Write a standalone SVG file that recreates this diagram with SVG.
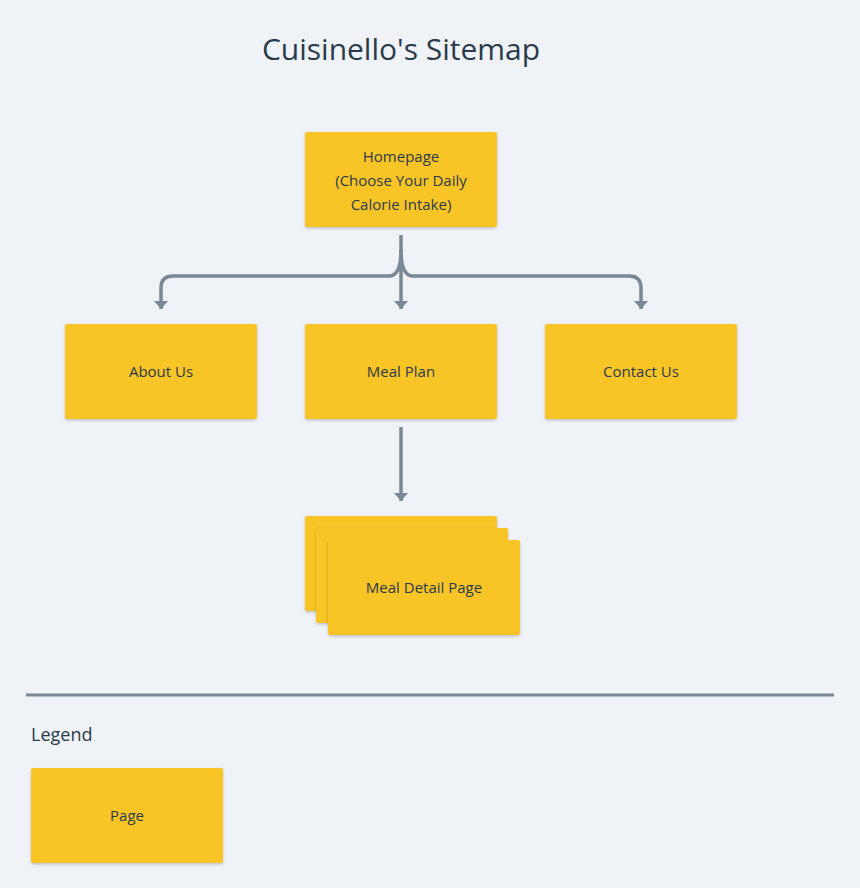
<svg xmlns="http://www.w3.org/2000/svg" width="860" height="888" viewBox="0 0 860 888">
<defs>
<filter id="sh" x="-10%" y="-10%" width="120%" height="130%"><feDropShadow dx="0" dy="1.5" stdDeviation="1.5" flood-color="#000" flood-opacity="0.2"/></filter>
<marker id="ar" viewBox="0 0 10 10" refX="5" refY="9" markerWidth="4" markerHeight="4" orient="auto-start-reverse" markerUnits="userSpaceOnUse"><path d="M0 0 L10 0 L5 8 Z" fill="#7a8896"/></marker>
<marker id="a" markerWidth="14" markerHeight="10" refX="7" refY="8" orient="0" markerUnits="userSpaceOnUse"><path d="M0 0 L14 0 L7 8 Z" fill="#7a8896"/></marker>
</defs>
<style>
.n{fill:#f9c425;filter:url(#sh)}
.t{font-family:"Open Sans","Liberation Sans",sans-serif;font-size:15px;fill:#2b3a4a;text-anchor:middle}
.c{fill:none;stroke:#7a8896;stroke-width:3.5}
</style>
<rect width="860" height="888" fill="#eff3f7"/>
<text x="401" y="60" font-family="'Open Sans','Liberation Sans',sans-serif" font-size="30" fill="#2b3a4a" text-anchor="middle">Cuisinello's Sitemap</text>
<g id="connectors">
<path class="c" d="M401 235 V309" marker-end="url(#a)"/>
<path class="c" d="M401 250 Q401 276 389 276 H173 Q161 276 161 288 V309" marker-end="url(#a)"/>
<path class="c" d="M401 250 Q401 276 413 276 H629 Q641 276 641 288 V309" marker-end="url(#a)"/>
<path class="c" d="M401 427 V501" marker-end="url(#a)"/>
</g>
<g id="homepage"><rect class="n" x="305" y="132" width="192" height="95" rx="2"/>
<text class="t" x="401" y="162">Homepage</text><text class="t" x="401" y="186">(Choose Your Daily</text><text class="t" x="401" y="210">Calorie Intake)</text></g>
<g id="about"><rect class="n" x="65" y="324" width="192" height="95" rx="2"/><text class="t" x="161" y="377">About Us</text></g>
<g id="mealplan"><rect class="n" x="305" y="324" width="192" height="95" rx="2"/><text class="t" x="401" y="377">Meal Plan</text></g>
<g id="contact"><rect class="n" x="545" y="324" width="192" height="95" rx="2"/><text class="t" x="641" y="377">Contact Us</text></g>
<g id="mealdetail">
<rect class="n" x="305" y="516" width="192" height="95" rx="2"/>
<rect class="n" x="316" y="528" width="192" height="95" rx="2"/>
<rect class="n" x="328" y="540" width="192" height="95" rx="2"/>
<text class="t" x="424" y="593">Meal Detail Page</text></g>
<line x1="26" y1="695" x2="834" y2="695" stroke="#7a8896" stroke-width="3"/>
<text x="31" y="741" font-family="'Open Sans','Liberation Sans',sans-serif" font-size="18" fill="#2b3a4a">Legend</text>
<g id="legend-page"><rect class="n" x="31" y="768" width="192" height="95" rx="2"/><text class="t" x="127" y="821">Page</text></g>
</svg>
